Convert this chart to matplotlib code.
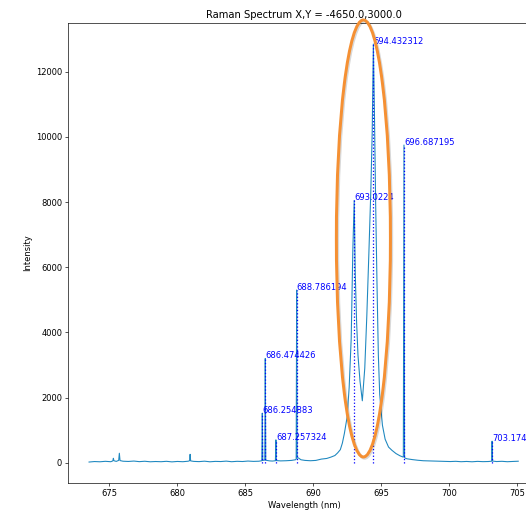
import matplotlib
matplotlib.use("Agg")
import matplotlib.pyplot as plt
import matplotlib.patheffects as pe
from matplotlib.patches import Ellipse

# peaks picked out of the spectrum (wavelength in nm, counts)
peak_wl = [686.254883, 686.474426, 687.257324, 688.786194, 693.0224, 694.432312, 696.687195, 703.174]
peak_int = [1520, 3200, 700, 5300, 8050, 12850, 9750, 660]

# measured spectrum
wavelength = [673.5, 673.9, 674.3, 674.7, 675.1, 675.25, 675.29, 675.33, 675.5, 675.68,
              675.73, 675.78, 676.0, 676.4, 676.8, 677.2, 677.6, 678.0, 678.4, 678.8,
              679.2, 679.6, 680.0, 680.4, 680.8, 680.9, 680.94, 680.98, 681.2, 681.6,
              682.0, 682.4, 682.8, 683.2, 683.6, 684.0, 684.4, 684.8, 685.2, 685.6,
              686.0, 686.22, 686.254883, 686.29, 686.44, 686.474426, 686.51, 686.8, 687.0, 687.22,
              687.257324, 687.29, 687.6, 688.0, 688.4, 688.7, 688.75, 688.786194, 688.82, 688.9,
              689.1, 689.4, 689.8, 690.2, 690.6, 691.0, 691.3, 691.6, 691.8, 692.0,
              692.15, 692.3, 692.5, 692.65, 692.8, 692.92, 693.0224, 693.1, 693.2, 693.3,
              693.45, 693.62, 693.8, 693.95, 694.1, 694.25, 694.35, 694.432312, 694.52, 694.6,
              694.7, 694.8, 694.9, 695.1, 695.3, 695.55, 695.8, 696.1, 696.4, 696.64,
              696.687195, 696.73, 696.9, 697.3, 697.7, 698.1, 698.5, 698.9, 699.3, 699.7,
              700.1, 700.5, 700.9, 701.3, 701.7, 702.1, 702.5, 702.9, 703.14, 703.174,
              703.21, 703.5, 703.9, 704.3, 704.7, 705.1]
intensity = [20, 35, 28, 42, 30, 55, 135, 60, 40, 70,
             290, 65, 45, 38, 50, 32, 44, 28, 36, 30,
             42, 25, 38, 30, 45, 60, 257, 55, 40, 33,
             46, 28, 40, 35, 48, 30, 42, 36, 50, 40,
             45, 60, 1520, 70, 80, 3200, 75, 55, 50, 60,
             700, 65, 55, 60, 70, 90, 110, 5300, 140, 150,
             90, 70, 60, 70, 110, 130, 170, 220, 300, 400,
             600, 900, 1400, 2300, 3800, 6500, 8050, 5800, 4300, 3300,
             2500, 1900, 2900, 4500, 6400, 8400, 10200, 12850, 10500, 8000,
             5500, 3300, 2100, 1150, 720, 480, 380, 280, 210, 170,
             9750, 150, 120, 95, 75, 60, 55, 50, 45, 40,
             35, 42, 30, 38, 28, 40, 32, 36, 45, 660,
             50, 35, 42, 30, 38, 45]

title = "Raman Spectrum X,Y = -4650.0,3000.0"

fig = plt.figure(figsize=(526 / 60, 511 / 60), dpi=60)
# the axes run past the right edge of the figure
ax = fig.add_axes([0.1293, 0.0554, 0.897, 0.899])
ax.spines["right"].set_visible(False)

ax.plot(wavelength, intensity, color="#1f88c0", lw=1.3)

for w, h in zip(peak_wl, peak_int):
    ax.vlines(w, 0, h, colors="b", linestyles=":", lw=1.5)
    ax.text(w, h, str(w), color="b")

ax.set_xlim(671.95, 706.69)
ax.set_ylim(-614, 13487)
ax.set_xlabel("Wavelength (nm)")
ax.set_ylabel("Intensity")
ax.set_title(title)

# highlight around the ruby doublet
ring = Ellipse((693.70, 6882), 3.98, 13413, fill=False, edgecolor="#f59033",
               lw=3.6, clip_on=False, zorder=5)
ring.set_path_effects([pe.SimpleLineShadow(offset=(1.5, -1.5), alpha=0.15, shadow_color="k"),
                       pe.Normal()])
ax.add_patch(ring)

fig.savefig("out.png", dpi=60)
